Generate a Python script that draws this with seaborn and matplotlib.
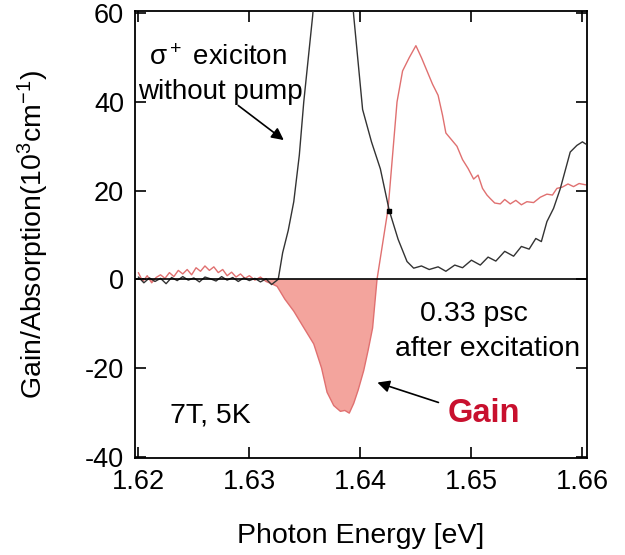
import numpy as np
import pandas as pd
import matplotlib
matplotlib.use("Agg")
import matplotlib.pyplot as plt
import seaborn as sns

# absorption spectrum without pump (black trace)
energy_nopump = [1.6200, 1.6205, 1.6210, 1.6215, 1.6220, 1.6225, 1.6230, 1.6235, 1.6240, 1.6245,
                 1.6250, 1.6255, 1.6260, 1.6265, 1.6270, 1.6275, 1.6280, 1.6285, 1.6290, 1.6295,
                 1.6300, 1.6305, 1.6310, 1.6315, 1.6320, 1.6326, 1.6330, 1.6335, 1.6340, 1.6345,
                 1.6349, 1.6357, 1.6365, 1.6376, 1.6386, 1.6394, 1.6402, 1.6410, 1.6418, 1.6426,
                 1.6434, 1.6442, 1.6448, 1.6455, 1.6462, 1.6470, 1.6477, 1.6485, 1.6492, 1.6500,
                 1.6508, 1.6515, 1.6522, 1.6530, 1.6538, 1.6545, 1.6552, 1.6558, 1.6563, 1.6568,
                 1.6574, 1.6580, 1.6585, 1.6589, 1.6595, 1.6600, 1.6603]
absorb_nopump = [0.5, -0.8, 0.3, -0.5, 0.2, -1.0, 0.4, -0.3, 0.6, -0.2,
                 0.3, -0.6, 0.5, 0.1, -0.4, 0.6, -0.2, 0.4, -0.5, 0.3,
                 -0.3, 0.2, -0.6, 0.1, -1.2, 0.0, 6.0, 11.0, 17.5, 28.0,
                 40.0, 59.4, 85.0, 95.0, 85.0, 59.4, 38.3, 31.0, 24.9, 15.5,
                 9.0, 4.0, 2.5, 3.0, 2.2, 2.8, 1.8, 3.2, 2.6, 4.3,
                 3.2, 5.0, 4.1, 6.3, 5.2, 7.4, 6.8, 9.2, 8.5, 13.0,
                 16.0, 20.4, 25.0, 28.7, 30.2, 31.0, 30.5]

# gain/absorption 0.33 psc after excitation (red trace)
energy_pump = [1.6200, 1.6204, 1.6208, 1.6212, 1.6216, 1.6220, 1.6224, 1.6228, 1.6232, 1.6236,
               1.6240, 1.6244, 1.6248, 1.6252, 1.6256, 1.6260, 1.6264, 1.6268, 1.6272, 1.6276,
               1.6280, 1.6284, 1.6288, 1.6292, 1.6296, 1.6300, 1.6305, 1.6310, 1.6315, 1.6320,
               1.6325, 1.6332, 1.6340, 1.6348, 1.6358, 1.6365, 1.6370, 1.6376, 1.6382, 1.6386,
               1.6390, 1.6394, 1.6398, 1.6403, 1.6407, 1.6411, 1.6415, 1.6420, 1.6425, 1.6429,
               1.6433, 1.6438, 1.6444, 1.6450, 1.6455, 1.6460, 1.6465, 1.6470, 1.6474, 1.6477,
               1.6482, 1.6487, 1.6492, 1.6497, 1.6502, 1.6506, 1.6510, 1.6514, 1.6517, 1.6521,
               1.6526, 1.6530, 1.6535, 1.6540, 1.6545, 1.6550, 1.6556, 1.6562, 1.6568, 1.6573,
               1.6577, 1.6582, 1.6587, 1.6592, 1.6597, 1.6603]
gain_pump = [1.5, -0.5, 0.8, -0.8, 0.4, 1.0, 0.2, 1.5, 0.6, 2.0,
             1.2, 2.2, 1.0, 2.6, 1.8, 3.0, 2.0, 2.8, 1.5, 2.2,
             0.8, 1.6, 0.5, 1.2, 0.2, 0.8, -0.2, 0.5, -0.5, -1.0,
             -1.6, -4.5, -7.2, -10.5, -14.6, -20.0, -25.5, -28.5, -29.8, -29.6,
             -30.2, -28.0, -25.0, -20.6, -16.0, -11.0, 0.0, 8.0, 16.0, 28.0,
             40.0, 47.0, 50.0, 52.7, 50.0, 47.0, 44.0, 41.5, 37.0, 33.0,
             31.5, 30.0, 27.0, 25.0, 22.6, 23.5, 20.5, 19.0, 18.2, 17.2,
             17.0, 18.0, 17.0, 17.8, 16.8, 17.5, 17.3, 18.5, 19.2, 19.0,
             20.5, 20.8, 21.5, 20.9, 21.6, 21.3]

# point where the two traces cross
cross_energy = [1.6426]
cross_value = [15.5]

x_ticks = [1.62, 1.63, 1.64, 1.65, 1.66]
y_ticks = [-40, -20, 0, 20, 40, 60]

nopump_df = pd.DataFrame({'Energy': energy_nopump, 'Value': absorb_nopump})
pump_df = pd.DataFrame({'Energy': energy_pump, 'Value': gain_pump})

sns.set_style("ticks")
plt.rcParams['font.family'] = ['Liberation Sans', 'DejaVu Sans']
plt.rcParams['mathtext.fontset'] = 'custom'
plt.rcParams['mathtext.rm'] = 'Liberation Sans'
plt.rcParams['mathtext.it'] = 'Liberation Sans:italic'
plt.rcParams['axes.unicode_minus'] = False
plt.rcParams['text.color'] = 'black'
plt.rcParams['axes.labelcolor'] = 'black'

fig = plt.figure(figsize=(6.25, 5.55), dpi=100)
ax = fig.add_axes([0.216, 0.175, 0.723, 0.805])

# shaded gain region (negative absorption)
gx = np.array(energy_pump)
gy = np.array(gain_pump)
ax.fill_between(gx, gy, 0, where=gy <= 0, interpolate=True,
                color='#f29a92', alpha=0.9, linewidth=0, zorder=1)

sns.lineplot(data=nopump_df, x='Energy', y='Value', ax=ax, color='#333333',
             linewidth=1.0, estimator=None, sort=False, zorder=3)
sns.lineplot(data=pump_df, x='Energy', y='Value', ax=ax, color='#e07070',
             linewidth=1.0, estimator=None, sort=False, zorder=2)
ax.scatter(cross_energy, cross_value, marker='s', s=8, color='black', zorder=4)

ax.axhline(0, color='black', linewidth=1.2, zorder=3)

ax.set_xlim(1.6197, 1.6604)
ax.set_ylim(-40.3, 60.5)
ax.set_xticks(x_ticks)
ax.set_xticklabels([f"{t:.2f}" for t in x_ticks])
ax.set_yticks(y_ticks)
ax.tick_params(direction='in', length=8, width=1.2, top=True, right=True,
               labelsize=19.5, colors='black')
ax.tick_params(axis='x', pad=8)
ax.tick_params(axis='y', pad=8)
for s in ax.spines.values():
    s.set_linewidth(1.3)
    s.set_color('black')

ax.set_xlabel("Photon Energy [eV]", fontsize=20.5, labelpad=20)
ax.set_ylabel("Gain/Absorption(10$^3$cm$^{-1}$)", fontsize=20.5, labelpad=24)

ax.text(1.62721, 50.0, "σ$^+$ exiciton", fontsize=20, ha='center', va='center')
ax.text(1.62739, 42.2, "without pump", fontsize=20, ha='center', va='center')
ax.annotate("", xy=(1.6331, 31.4), xytext=(1.6290, 39.2),
            arrowprops=dict(arrowstyle='-|>', color='black', lw=1.2,
                            mutation_scale=18, shrinkA=0, shrinkB=0))

ax.text(1.62649, -30.7, "7T, 5K", fontsize=20.5, ha='center', va='center')
ax.text(1.65018, -7.8, "0.33 psc", fontsize=20.5, ha='center', va='center')
ax.text(1.65144, -15.7, "after excitation", fontsize=20.5, ha='center', va='center')
ax.text(1.65108, -30.3, "Gain", fontsize=23.5, fontweight='bold', color='#c8102e',
        ha='center', va='center')
ax.annotate("", xy=(1.64153, -23.3), xytext=(1.64703, -27.8),
            arrowprops=dict(arrowstyle='-|>', color='black', lw=1.2,
                            mutation_scale=18, shrinkA=0, shrinkB=0))

sns.despine(ax=ax, top=False, right=False)
fig.savefig("out.png", dpi=100)
plt.close()
